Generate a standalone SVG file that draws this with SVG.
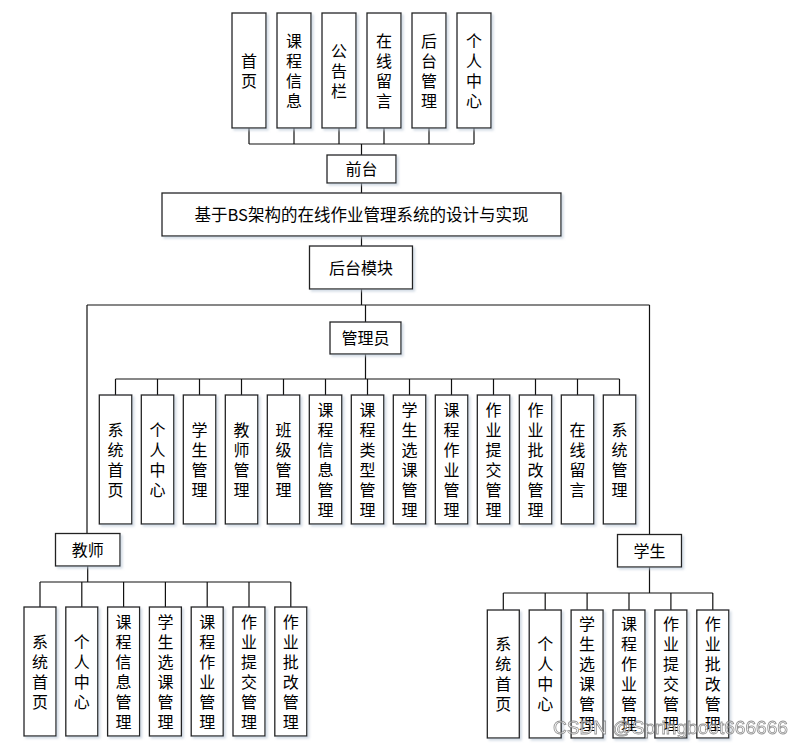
<svg xmlns="http://www.w3.org/2000/svg" width="803" height="747" viewBox="0 0 803 747">
<defs>
<filter id="sh" x="-20%" y="-20%" width="140%" height="140%"><feDropShadow dx="2" dy="2" stdDeviation="1" flood-color="#b8c4d4" flood-opacity="0.6"/></filter>
</defs>
<style>
.b{fill:#fff;stroke:#222;stroke-width:1.3;filter:url(#sh)}
.t{font-family:"Noto Sans CJK SC","Liberation Sans",sans-serif;font-size:16px;fill:#000;text-anchor:middle}
.c{fill:none;stroke:#111;stroke-width:1.2}
.wm{font-family:"Liberation Sans",sans-serif;font-size:19px;fill:#fff;stroke:#777;stroke-width:0.8;opacity:0.8}
</style>
<rect width="803" height="747" fill="#fff"/>
<g id="connectors" class="c">
<path d="M249,128V144M294,128V144M339,128V144M384,128V144M429,128V144M474,128V144M249,144H474M361.5,144V155"/>
<path d="M361.5,183V193M361.5,236V246M361.5,289V305M87,305H649.5M365.5,305V322M87,305V533.5M649.5,305V534.5"/>
<path d="M365.5,354V379M115.5,379H619.5M115.5,379V395M157.5,379V395M199.5,379V395M241.5,379V395M283.5,379V395M325.5,379V395M367.5,379V395M409.5,379V395M451.5,379V395M493.5,379V395M535.5,379V395M577.5,379V395M619.5,379V395"/>
<path d="M87.7,566V582M40,582H290.8M40,582V607M81.8,582V607M123.6,582V607M165.4,582V607M207.2,582V607M249,582V607M290.8,582V607"/>
<path d="M649.5,567V593M503.3,593H712.8M503.3,593V610M545.2,593V610M587.1,593V610M629,593V610M670.9,593V610M712.8,593V610"/>
</g>
<g id="top1"><rect class="b" x="232" y="13" width="34" height="115"/><text class="t" y="66.5"><tspan x="249">首</tspan><tspan x="249" dy="20">页</tspan></text></g>
<g id="top2"><rect class="b" x="277" y="13" width="34" height="115"/><text class="t" y="46.5"><tspan x="294">课</tspan><tspan x="294" dy="20">程</tspan><tspan x="294" dy="20">信</tspan><tspan x="294" dy="20">息</tspan></text></g>
<g id="top3"><rect class="b" x="322" y="13" width="34" height="115"/><text class="t" y="56.5"><tspan x="339">公</tspan><tspan x="339" dy="20">告</tspan><tspan x="339" dy="20">栏</tspan></text></g>
<g id="top4"><rect class="b" x="367" y="13" width="34" height="115"/><text class="t" y="46.5"><tspan x="384">在</tspan><tspan x="384" dy="20">线</tspan><tspan x="384" dy="20">留</tspan><tspan x="384" dy="20">言</tspan></text></g>
<g id="top5"><rect class="b" x="412" y="13" width="34" height="115"/><text class="t" y="46.5"><tspan x="429">后</tspan><tspan x="429" dy="20">台</tspan><tspan x="429" dy="20">管</tspan><tspan x="429" dy="20">理</tspan></text></g>
<g id="top6"><rect class="b" x="457" y="13" width="34" height="115"/><text class="t" y="46.5"><tspan x="474">个</tspan><tspan x="474" dy="20">人</tspan><tspan x="474" dy="20">中</tspan><tspan x="474" dy="20">心</tspan></text></g>
<g id="qiantai"><rect class="b" x="327" y="155" width="69" height="28"/><text class="t" x="361.5" y="175">前台</text></g>
<g id="root"><rect class="b" x="162" y="193" width="399" height="43"/><text class="t" x="361.5" y="220.5" style="font-size:16.5px">基于BS架构的在线作业管理系统的设计与实现</text></g>
<g id="houtai"><rect class="b" x="309.5" y="246" width="103" height="43"/><text class="t" x="361" y="273.5">后台模块</text></g>
<g id="admin"><rect class="b" x="330" y="322" width="71" height="32"/><text class="t" x="365.5" y="344">管理员</text></g>
<g id="a1"><rect class="b" x="99.3" y="395" width="32.5" height="129"/><text class="t" y="435.5"><tspan x="115.5">系</tspan><tspan x="115.5" dy="20">统</tspan><tspan x="115.5" dy="20">首</tspan><tspan x="115.5" dy="20">页</tspan></text></g>
<g id="a2"><rect class="b" x="141.3" y="395" width="32.5" height="129"/><text class="t" y="435.5"><tspan x="157.5">个</tspan><tspan x="157.5" dy="20">人</tspan><tspan x="157.5" dy="20">中</tspan><tspan x="157.5" dy="20">心</tspan></text></g>
<g id="a3"><rect class="b" x="183.3" y="395" width="32.5" height="129"/><text class="t" y="435.5"><tspan x="199.5">学</tspan><tspan x="199.5" dy="20">生</tspan><tspan x="199.5" dy="20">管</tspan><tspan x="199.5" dy="20">理</tspan></text></g>
<g id="a4"><rect class="b" x="225.3" y="395" width="32.5" height="129"/><text class="t" y="435.5"><tspan x="241.5">教</tspan><tspan x="241.5" dy="20">师</tspan><tspan x="241.5" dy="20">管</tspan><tspan x="241.5" dy="20">理</tspan></text></g>
<g id="a5"><rect class="b" x="267.3" y="395" width="32.5" height="129"/><text class="t" y="435.5"><tspan x="283.5">班</tspan><tspan x="283.5" dy="20">级</tspan><tspan x="283.5" dy="20">管</tspan><tspan x="283.5" dy="20">理</tspan></text></g>
<g id="a6"><rect class="b" x="309.3" y="395" width="32.5" height="129"/><text class="t" y="415.5"><tspan x="325.5">课</tspan><tspan x="325.5" dy="20">程</tspan><tspan x="325.5" dy="20">信</tspan><tspan x="325.5" dy="20">息</tspan><tspan x="325.5" dy="20">管</tspan><tspan x="325.5" dy="20">理</tspan></text></g>
<g id="a7"><rect class="b" x="351.3" y="395" width="32.5" height="129"/><text class="t" y="415.5"><tspan x="367.5">课</tspan><tspan x="367.5" dy="20">程</tspan><tspan x="367.5" dy="20">类</tspan><tspan x="367.5" dy="20">型</tspan><tspan x="367.5" dy="20">管</tspan><tspan x="367.5" dy="20">理</tspan></text></g>
<g id="a8"><rect class="b" x="393.3" y="395" width="32.5" height="129"/><text class="t" y="415.5"><tspan x="409.5">学</tspan><tspan x="409.5" dy="20">生</tspan><tspan x="409.5" dy="20">选</tspan><tspan x="409.5" dy="20">课</tspan><tspan x="409.5" dy="20">管</tspan><tspan x="409.5" dy="20">理</tspan></text></g>
<g id="a9"><rect class="b" x="435.3" y="395" width="32.5" height="129"/><text class="t" y="415.5"><tspan x="451.5">课</tspan><tspan x="451.5" dy="20">程</tspan><tspan x="451.5" dy="20">作</tspan><tspan x="451.5" dy="20">业</tspan><tspan x="451.5" dy="20">管</tspan><tspan x="451.5" dy="20">理</tspan></text></g>
<g id="a10"><rect class="b" x="477.3" y="395" width="32.5" height="129"/><text class="t" y="415.5"><tspan x="493.5">作</tspan><tspan x="493.5" dy="20">业</tspan><tspan x="493.5" dy="20">提</tspan><tspan x="493.5" dy="20">交</tspan><tspan x="493.5" dy="20">管</tspan><tspan x="493.5" dy="20">理</tspan></text></g>
<g id="a11"><rect class="b" x="519.3" y="395" width="32.5" height="129"/><text class="t" y="415.5"><tspan x="535.5">作</tspan><tspan x="535.5" dy="20">业</tspan><tspan x="535.5" dy="20">批</tspan><tspan x="535.5" dy="20">改</tspan><tspan x="535.5" dy="20">管</tspan><tspan x="535.5" dy="20">理</tspan></text></g>
<g id="a12"><rect class="b" x="561.3" y="395" width="32.5" height="129"/><text class="t" y="435.5"><tspan x="577.5">在</tspan><tspan x="577.5" dy="20">线</tspan><tspan x="577.5" dy="20">留</tspan><tspan x="577.5" dy="20">言</tspan></text></g>
<g id="a13"><rect class="b" x="603.3" y="395" width="32.5" height="129"/><text class="t" y="435.5"><tspan x="619.5">系</tspan><tspan x="619.5" dy="20">统</tspan><tspan x="619.5" dy="20">管</tspan><tspan x="619.5" dy="20">理</tspan></text></g>
<g id="teacher"><rect class="b" x="55.5" y="533.5" width="64.5" height="32.5"/><text class="t" x="87.7" y="555.7">教师</text></g>
<g id="t1"><rect class="b" x="24" y="607" width="32" height="129"/><text class="t" y="647.5"><tspan x="40">系</tspan><tspan x="40" dy="20">统</tspan><tspan x="40" dy="20">首</tspan><tspan x="40" dy="20">页</tspan></text></g>
<g id="t2"><rect class="b" x="65.8" y="607" width="32" height="129"/><text class="t" y="647.5"><tspan x="81.8">个</tspan><tspan x="81.8" dy="20">人</tspan><tspan x="81.8" dy="20">中</tspan><tspan x="81.8" dy="20">心</tspan></text></g>
<g id="t3"><rect class="b" x="107.6" y="607" width="32" height="129"/><text class="t" y="627.5"><tspan x="123.6">课</tspan><tspan x="123.6" dy="20">程</tspan><tspan x="123.6" dy="20">信</tspan><tspan x="123.6" dy="20">息</tspan><tspan x="123.6" dy="20">管</tspan><tspan x="123.6" dy="20">理</tspan></text></g>
<g id="t4"><rect class="b" x="149.4" y="607" width="32" height="129"/><text class="t" y="627.5"><tspan x="165.4">学</tspan><tspan x="165.4" dy="20">生</tspan><tspan x="165.4" dy="20">选</tspan><tspan x="165.4" dy="20">课</tspan><tspan x="165.4" dy="20">管</tspan><tspan x="165.4" dy="20">理</tspan></text></g>
<g id="t5"><rect class="b" x="191.2" y="607" width="32" height="129"/><text class="t" y="627.5"><tspan x="207.2">课</tspan><tspan x="207.2" dy="20">程</tspan><tspan x="207.2" dy="20">作</tspan><tspan x="207.2" dy="20">业</tspan><tspan x="207.2" dy="20">管</tspan><tspan x="207.2" dy="20">理</tspan></text></g>
<g id="t6"><rect class="b" x="233" y="607" width="32" height="129"/><text class="t" y="627.5"><tspan x="249">作</tspan><tspan x="249" dy="20">业</tspan><tspan x="249" dy="20">提</tspan><tspan x="249" dy="20">交</tspan><tspan x="249" dy="20">管</tspan><tspan x="249" dy="20">理</tspan></text></g>
<g id="t7"><rect class="b" x="274.8" y="607" width="32" height="129"/><text class="t" y="627.5"><tspan x="290.8">作</tspan><tspan x="290.8" dy="20">业</tspan><tspan x="290.8" dy="20">批</tspan><tspan x="290.8" dy="20">改</tspan><tspan x="290.8" dy="20">管</tspan><tspan x="290.8" dy="20">理</tspan></text></g>
<g id="student"><rect class="b" x="617.5" y="534.5" width="64" height="32.5"/><text class="t" x="649.5" y="556.7">学生</text></g>
<g id="s1"><rect class="b" x="487.3" y="610" width="32" height="128"/><text class="t" y="650"><tspan x="503.3">系</tspan><tspan x="503.3" dy="20">统</tspan><tspan x="503.3" dy="20">首</tspan><tspan x="503.3" dy="20">页</tspan></text></g>
<g id="s2"><rect class="b" x="529.2" y="610" width="32" height="128"/><text class="t" y="650"><tspan x="545.2">个</tspan><tspan x="545.2" dy="20">人</tspan><tspan x="545.2" dy="20">中</tspan><tspan x="545.2" dy="20">心</tspan></text></g>
<g id="s3"><rect class="b" x="571.1" y="610" width="32" height="128"/><text class="t" y="630"><tspan x="587.1">学</tspan><tspan x="587.1" dy="20">生</tspan><tspan x="587.1" dy="20">选</tspan><tspan x="587.1" dy="20">课</tspan><tspan x="587.1" dy="20">管</tspan><tspan x="587.1" dy="20">理</tspan></text></g>
<g id="s4"><rect class="b" x="613" y="610" width="32" height="128"/><text class="t" y="630"><tspan x="629">课</tspan><tspan x="629" dy="20">程</tspan><tspan x="629" dy="20">作</tspan><tspan x="629" dy="20">业</tspan><tspan x="629" dy="20">管</tspan><tspan x="629" dy="20">理</tspan></text></g>
<g id="s5"><rect class="b" x="654.9" y="610" width="32" height="128"/><text class="t" y="630"><tspan x="670.9">作</tspan><tspan x="670.9" dy="20">业</tspan><tspan x="670.9" dy="20">提</tspan><tspan x="670.9" dy="20">交</tspan><tspan x="670.9" dy="20">管</tspan><tspan x="670.9" dy="20">理</tspan></text></g>
<g id="s6"><rect class="b" x="696.8" y="610" width="32" height="128"/><text class="t" y="630"><tspan x="712.8">作</tspan><tspan x="712.8" dy="20">业</tspan><tspan x="712.8" dy="20">批</tspan><tspan x="712.8" dy="20">改</tspan><tspan x="712.8" dy="20">管</tspan><tspan x="712.8" dy="20">理</tspan></text></g>
<text class="wm" x="553" y="734" textLength="235" lengthAdjust="spacingAndGlyphs">CSDN @Springboot666666</text>
</svg>
